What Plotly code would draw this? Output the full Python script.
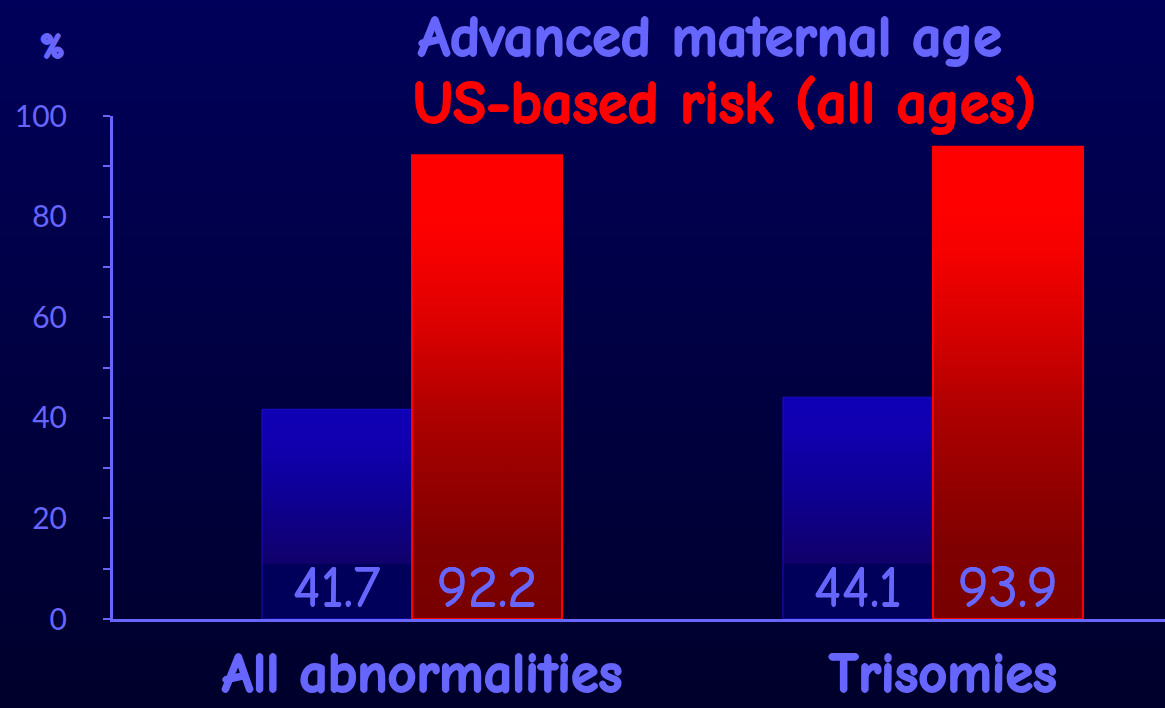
import base64
import struct
import zlib

import plotly.graph_objects as go

# ---- data -------------------------------------------------------------
categories = ["All abnormalities", "Trisomies"]
advanced_maternal_age = [41.7, 44.1]
us_based_risk = [92.2, 93.9]
series_names = ["Advanced maternal age", "US-based risk (all ages)"]
y_ticks = [0, 20, 40, 60, 80, 100]

# ---- style ------------------------------------------------------------
W, H = 1165, 708
TEXT_BLUE = "#6666ff"
RED = "#ff0000"
COMIC = "Comic Sans MS, Comic Neue, Open Sans, sans-serif"
BAR_W = 0.288          # width of one bar in x units (category spacing = 1)
LABEL_BAND = 11.0      # height (y units) of the dark band behind blue labels


def heavy(color, px=1):
    """Text-shadow that thickens strokes to fake a heavy weight."""
    return (f"{px}px 0 0 {color}, -{px}px 0 0 {color}, "
            f"0 {px}px 0 {color}, 0 -{px}px 0 {color}")


def gradient_png(top, bottom, n=256):
    """Vertical 1-pixel-wide gradient PNG as a data URI."""
    raw = b""
    for i in range(n):
        t = i / (n - 1)
        px = bytes(int(round(a + (b - a) * t)) for a, b in zip(top, bottom))
        raw += b"\x00" + px

    def chunk(kind, data):
        c = struct.pack(">I", len(data)) + kind + data
        return c + struct.pack(">I", zlib.crc32(kind + data) & 0xFFFFFFFF)

    png = b"\x89PNG\r\n\x1a\n"
    png += chunk(b"IHDR", struct.pack(">IIBBBBB", 1, n, 8, 2, 0, 0, 0))
    png += chunk(b"IDAT", zlib.compress(raw, 9))
    png += chunk(b"IEND", b"")
    return "data:image/png;base64," + base64.b64encode(png).decode()


fig = go.Figure()


def add_bar(x0, x1, value, colorscale, line_color, line_width):
    fig.add_trace(go.Scatter(
        x=[x0, x0, x1, x1, x0], y=[0, value, value, 0, 0],
        mode="lines", fill="toself",
        line=dict(color=line_color, width=line_width),
        fillgradient=dict(type="vertical", colorscale=colorscale,
                          start=0, stop=value),
        hoverinfo="skip", showlegend=False,
    ))


for i, (b, r) in enumerate(zip(advanced_maternal_age, us_based_risk)):
    band = LABEL_BAND / b
    blue_scale = [
        [0.0, "#00005a"], [band, "#00005a"], [band + 0.001, "#10006a"],
        [0.6, "#0e0096"], [0.85, "#1000b0"], [1.0, "#1000b6"],
    ]
    red_scale = [
        [0.0, "#780000"], [0.15, "#7f0000"], [0.3, "#960000"],
        [0.45, "#b00000"], [0.6, "#d40000"], [0.78, "#f60000"],
        [0.88, "#ff0000"], [1.0, "#ff0000"],
    ]
    add_bar(i - BAR_W, i, b, blue_scale, "#1a0cc4", 1)
    add_bar(i, i + BAR_W, r, red_scale, RED, 2)

    for xc, v in ((i - BAR_W / 2, b), (i + BAR_W / 2, r)):
        fig.add_annotation(
            x=xc, y=0, xref="x", yref="y", text=f"{v:.1f}",
            showarrow=False, yanchor="bottom", yshift=-4,
            font=dict(family=COMIC, size=58, color=TEXT_BLUE,
                      shadow=heavy(TEXT_BLUE, 0.5)),
        )

# category names under each group
for i, name in enumerate(categories):
    fig.add_annotation(
        x=i, y=0, xref="x", yref="paper", text=name,
        showarrow=False, xanchor="center", yanchor="bottom",
        xshift=10, yshift=0,
        font=dict(family=COMIC, size=56, color=TEXT_BLUE, weight="bold",
                  shadow=heavy(TEXT_BLUE)),
    )

# titles / legend text
fig.add_annotation(
    x=710 / W, y=1 - 37 / H, xref="paper", yref="paper",
    text=series_names[0], showarrow=False, xanchor="center", yanchor="middle",
    font=dict(family=COMIC, size=58, color=TEXT_BLUE, weight="bold",
              shadow=heavy(TEXT_BLUE)),
)
fig.add_annotation(
    x=724 / W, y=1 - 104 / H, xref="paper", yref="paper",
    text=series_names[1], showarrow=False, xanchor="center", yanchor="middle",
    font=dict(family=COMIC, size=60, color=RED, weight="bold",
              shadow=heavy(RED)),
)
fig.add_annotation(
    x=52 / W, y=1 - 46 / H, xref="paper", yref="paper",
    text="%", showarrow=False, xanchor="center", yanchor="middle",
    font=dict(family=COMIC, size=36, color=TEXT_BLUE, weight="bold",
              shadow=heavy(TEXT_BLUE)),
)

x_min = -(412 - 113) / 521
x_max = x_min + (W - 113) / 521

fig.update_layout(
    width=W, height=H,
    autosize=False,
    margin=dict(l=0, r=0, t=0, b=0, pad=0, autoexpand=False),
    paper_bgcolor="#00003c",
    plot_bgcolor="rgba(0,0,0,0)",
    showlegend=False,
    images=[dict(
        source=gradient_png((0, 0, 90), (0, 0, 44)),
        xref="paper", yref="paper", x=0, y=1, sizex=1, sizey=1,
        xanchor="left", yanchor="top", sizing="stretch", layer="below",
    )],
    xaxis=dict(
        domain=[113 / W, 1], range=[x_min, x_max],
        tickvals=list(range(len(categories))), showticklabels=False,
        showline=True, linecolor=TEXT_BLUE, linewidth=3,
        showgrid=False, zeroline=False, ticks="", automargin=False,
    ),
    yaxis=dict(
        domain=[(H - 619) / H, (H - 116) / H], range=[0, 100],
        tickvals=y_ticks, showline=True, linecolor=TEXT_BLUE, linewidth=3,
        showgrid=False, zeroline=False, automargin=False,
        ticks="outside", ticklen=7, tickwidth=2, tickcolor=TEXT_BLUE,
        minor=dict(dtick=10, ticks="outside", ticklen=7, tickwidth=2,
                   tickcolor=TEXT_BLUE, showgrid=False),
        tickfont=dict(family="Lato", size=30, color=TEXT_BLUE),
        ticklabelstandoff=30,
    ),
)

fig.write_html("out.html")
